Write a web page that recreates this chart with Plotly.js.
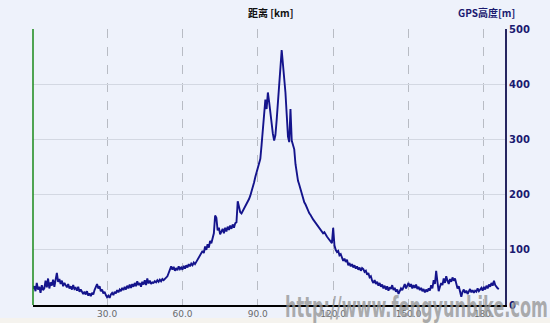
<!DOCTYPE html>
<html><head><meta charset="utf-8">
<script src="https://cdn.plot.ly/plotly-3.0.1.min.js"></script>
<style>html,body{margin:0;padding:0;background:#eef2fb;}#c{width:550px;height:323px;}</style>
</head><body><div id="c"></div>
<script>
// GPS elevation sampled every 0.5 km from 0 km
const sampleStartKm = 0;
const sampleStepKm = 0.5;
const elevM = [
 38,30,34,25,40,28,33,22,36,27,30,44,32,48,30,41,35,46,33,50,58,
 42,47,38,44,34,40,36,32,38,30,34,28,36,29,31,26,33,24,28,25,
 20,24,19,25,17,21,16,22,19,27,33,38,30,34,25,28,21,24,18,14,
 17,13,19,22,18,24,21,27,23,28,25,31,27,33,28,35,30,37,31,38,
 33,40,34,43,36,40,33,42,37,45,36,48,39,44,38,41,40,43,41,45,
 42,46,43,47,45,48,50,52,58,66,70,64,69,62,67,63,70,65,68,64,
 71,66,72,68,74,70,75,72,77,74,78,80,84,88,92,98,94,106,100,110,
 104,116,112,122,130,162,158,135,140,128,134,138,130,140,133,142,136,144,138,146,
 140,148,150,188,178,168,166,170,174,178,182,188,192,198,205,212,222,232,240,248,
 256,265,290,315,345,372,355,385,368,345,325,310,298,308,335,362,392,430,462,440,
 412,385,345,305,295,355,298,288,282,255,235,225,218,210,200,192,186,182,176,170,
 166,163,158,155,152,149,146,142,139,137,134,130,132,127,124,121,118,115,112,140,
 108,100,96,98,90,92,85,80,84,78,82,72,76,70,74,68,72,66,70,64,
 68,62,67,65,60,62,55,58,50,52,44,40,45,38,42,35,40,33,37,30,
 35,28,34,26,32,29,36,27,31,24,28,20,25,30,27,34,38,30,36,40,
 33,38,30,36,31,37,29,33,27,31,25,29,23,28,24,30,26,36,30,45,
 38,62,42,25,33,40,36,48,40,52,44,38,47,42,50,44,48,40,30,34,
 22,15,24,28,22,26,20,25,29,23,27,22,26,24,30,25,28,31,26,33,
 28,35,30,37,33,40,35,44,36,32,30,29
];
const distKm = elevM.map((_, i) => sampleStartKm + i * sampleStepKm);
const xTickVals = [30,60,90,120,150,180];
const xTickText = ["30.0","60.0","90.0","120.0","150.0","180."];
const yTickVals = [0,100,200,300,400,500];
const yTickText = ["0","100","200","300","400","500"];
const xTitle = "距离 [km]";
const yTitle = "GPS高度[m]";
const watermark = "http://www.fengyunbike.com";

const trace = {x: distKm, y: elevM, type: 'scatter', mode: 'lines',
  line: {color: '#14148c', width: 1.9}, hoverinfo: 'skip'};

const layout = {
  width: 550, height: 323,
  margin: {l: 33, r: 45, t: 29, b: 18},
  paper_bgcolor: '#eef2fb', plot_bgcolor: '#eef2fb',
  showlegend: false,
  font: {family: 'DejaVu Sans, sans-serif'},
  xaxis: {range: [0.5, 188.4], tickvals: xTickVals, ticktext: xTickText,
    showgrid: true, gridcolor: '#b8bcc4', griddash: 'dash', gridwidth: 1,
    zeroline: false, showline: true, linecolor: '#000', linewidth: 1.5,
    ticks: '', tickfont: {size: 9, color: '#6a6a6a'}},
  yaxis: {range: [0, 500], side: 'right', tickvals: yTickVals, ticktext: yTickText,
    showgrid: true, gridcolor: '#d3d8e2', gridwidth: 1, zeroline: false,
    showline: true, linecolor: '#262660', linewidth: 2, ticks: '',
    tickfont: {size: 10, color: '#1a1a70', family: 'DejaVu Sans, sans-serif', weight: 'bold'}},
  shapes: [
    {type: 'line', xref: 'paper', yref: 'paper', x0: 0, x1: 0, y0: 0, y1: 1,
     line: {color: '#1a8a1a', width: 1.5}},
    {type: 'rect', xref: 'paper', yref: 'paper', x0: -0.07, x1: 1.1, y0: -0.047, y1: -0.07,
     fillcolor: '#f5f3ee', line: {width: 0}, layer: 'below'}
  ],
  annotations: [
    {text: '<b>' + xTitle + '</b>', xref: 'paper', yref: 'paper', x: 0.505, y: 1, yshift: 17,
     yanchor: 'middle', showarrow: false,
     font: {size: 10, color: '#111', family: 'Noto Sans CJK SC, DejaVu Sans'}},
    {text: '<b>' + yTitle + '</b>', xref: 'paper', yref: 'paper', x: 1.025, y: 1, yshift: 17, xanchor: 'right',
     yanchor: 'middle', showarrow: false,
     font: {size: 10, color: '#1a1a70', family: 'Noto Sans CJK SC, DejaVu Sans'}},
    {text: '<b>' + watermark + '</b>', xref: 'paper', yref: 'paper', x: 0.8125, y: 0, yshift: -2,
     xanchor: 'center', yanchor: 'middle', showarrow: false,
     font: {size: 29, color: 'rgba(150,150,150,0.78)', family: 'DejaVu Sans Condensed, DejaVu Sans'}}
  ]
};
Plotly.newPlot('c', [trace], layout, {staticPlot: true, displayModeBar: false}).then(() => {
  const texts = document.querySelectorAll('.annotation-text');
  texts.forEach(t => {
    if (t.textContent === watermark) {
      t.setAttribute('textLength', '263');
      t.setAttribute('lengthAdjust', 'spacingAndGlyphs');
    }
  });
});
</script></body></html>
